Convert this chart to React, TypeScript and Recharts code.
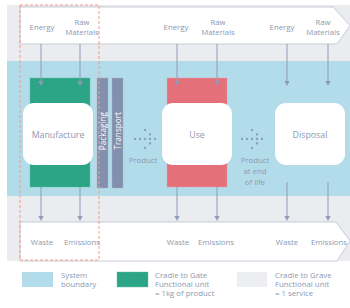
import React from "react";
import {
  ComposedChart,
  XAxis,
  YAxis,
  ReferenceArea,
  ReferenceLine,
  ReferenceDot,
  Scatter,
} from "recharts";

// ---------- data (labels) ----------
const stages = ["Manufacture", "Use", "Disposal"];
const inputs = [["Energy"], ["Raw", "Materials"]];
const outputs = ["Waste", "Emissions"];
const logistics = ["Packaging", "Transport"];
const transfers = [["Product"], ["Product", "at end", "of life"]];
const legendItems = [
  ["System", "boundary"],
  ["Cradle to Gate", "Functional unit", "= 1kg of product"],
  ["Cradle to Grave", "Functional unit", "= 1 service"],
];

// ---------- layout / style ----------
const W = 350;
const H = 308;
const FONT = "'Open Sans', 'Noto Sans', sans-serif";
const C = {
  bg: "#eaecf0",
  blue: "#b3dcea",
  green: "#2ba585",
  greenEdge: "#5fbfa3",
  red: "#e4707a",
  redEdge: "#f09aa0",
  slate: "#8290ad",
  slateEdge: "#a8b3c9",
  text: "#8d99b0",
  arrow: "#8e9bb6",
  boundary: "#f29a88",
  bannerStroke: "#c6cbd7",
  grey: "#eceef1",
};

const stageLayout = [
  { box: [23, 93], bar: [30, 90], barColor: C.green, inX: [41, 80], inLabelX: [42, 82], outLabelX: [42, 82], outStart: 187 },
  { box: [162, 232], bar: [167, 227], barColor: C.red, inX: [177, 217], inLabelX: [176, 218], outLabelX: [178, 216], outStart: 187 },
  { box: [275, 345], bar: null as number[] | null, barColor: "", inX: [287, 328], inLabelX: [282, 323], outLabelX: [287, 329], outStart: 182 },
];
const barEdges: Record<string, string> = { [C.green]: C.greenEdge, [C.red]: C.redEdge };

const logisticsX = [[97, 108], [112, 123]];
const transferAnchors = [[135, 139, 143, 160], [242, 139, 255, 160]];
const legendSwatch = [
  { x: [22, 53], fill: C.blue, stroke: "none", textX: 61 },
  { x: [117, 148], fill: C.green, stroke: C.greenEdge, textX: 155 },
  { x: [237, 267], fill: C.grey, stroke: "none", textX: 275 },
];

// dot-arrow pattern (relative offsets)
const dotPattern = [
  [0, 0], [5, 0], [10, 0], [15, 0], [20, 0],
  [10, -9], [15, -4.5], [15, 4.5], [10, 9],
];
const dotPoints = transferAnchors.flatMap(([x0, y0]) =>
  dotPattern.map(([dx, dy]) => ({ x: x0 + dx, y: y0 + dy }))
);

function label(key: string, x: number, y: number, text: string, size = 8, fill = C.text, anchor = "middle", rotate = false) {
  return (
    <ReferenceDot
      key={key}
      x={x}
      y={y}
      r={0}
      ifOverflow="visible"
      shape={(p: any) => (
        <text
          x={p.cx}
          y={p.cy}
          fill={fill}
          fontSize={size}
          fontFamily={FONT}
          textAnchor={anchor as any}
          dominantBaseline="central"
          transform={rotate ? `rotate(-90 ${p.cx} ${p.cy})` : undefined}
        >
          {text}
        </text>
      )}
    />
  );
}

function arrowHead(key: string, x: number, y: number) {
  return (
    <ReferenceDot
      key={key}
      x={x}
      y={y}
      r={0}
      ifOverflow="visible"
      shape={(p: any) => (
        <polygon
          points={`${p.cx - 2.6},${p.cy - 5} ${p.cx + 2.6},${p.cy - 5} ${p.cx},${p.cy}`}
          fill={C.arrow}
        />
      )}
    />
  );
}

const topBanner = (p: any) => {
  const { x, y, width, height } = p;
  const r = x + width;
  return (
    <path
      d={`M${x},${y} L${r - 17},${y} L${r},${y + height * 0.5} L${r - 13},${y + height} L${x},${y + height} Z`}
      fill="#ffffff"
      stroke={C.bannerStroke}
      strokeWidth={1}
    />
  );
};
const bottomBanner = (p: any) => {
  const { x, y, width, height } = p;
  const r = x + width;
  return (
    <path
      d={`M${x},${y} L${r - 14},${y} L${r},${y + height * 0.48} L${r - 13},${y + height} L${x},${y + height} Z`}
      fill="#ffffff"
      stroke={C.bannerStroke}
      strokeWidth={1}
    />
  );
};
const roundBox = (p: any) => (
  <rect x={p.x} y={p.y} width={p.width} height={p.height} rx={11} ry={11} fill="#ffffff" />
);

export default function App() {
  const areas: React.ReactNode[] = [];
  areas.push(<ReferenceArea key="bg" x1={7} x2={350} y1={5} y2={261} fill={C.bg} fillOpacity={1} stroke="none" ifOverflow="visible" />);
  areas.push(<ReferenceArea key="top" x1={20} x2={350} y1={7} y2={44} shape={topBanner} ifOverflow="visible" />);
  areas.push(<ReferenceArea key="blue" x1={7} x2={350} y1={61} y2={196} fill={C.blue} fillOpacity={1} stroke="none" ifOverflow="visible" />);
  areas.push(<ReferenceArea key="bottom" x1={20} x2={350} y1={222} y2={261} shape={bottomBanner} ifOverflow="visible" />);

  stageLayout.forEach((s, i) => {
    if (s.bar) {
      areas.push(
        <ReferenceArea
          key={`bar${i}`}
          x1={s.bar[0]}
          x2={s.bar[1]}
          y1={78}
          y2={187}
          fill={s.barColor}
          fillOpacity={1}
          stroke={barEdges[s.barColor]}
          strokeDasharray="1.5 1"
          strokeWidth={0.7}
          ifOverflow="visible"
        />
      );
    }
  });
  logisticsX.forEach((lx, i) => {
    areas.push(
      <ReferenceArea
        key={`log${i}`}
        x1={lx[0]}
        x2={lx[1]}
        y1={78}
        y2={188}
        fill={C.slate}
        fillOpacity={1}
        stroke={C.slateEdge}
        strokeDasharray="1.5 1"
        strokeWidth={0.7}
        ifOverflow="visible"
      />
    );
  });
  stageLayout.forEach((s, i) => {
    areas.push(<ReferenceArea key={`box${i}`} x1={s.box[0]} x2={s.box[1]} y1={103} y2={165} shape={roundBox} ifOverflow="visible" />);
  });
  areas.push(
    <ReferenceArea
      key="cradle"
      x1={20}
      x2={99}
      y1={5}
      y2={260}
      fill="none"
      stroke={C.boundary}
      strokeDasharray="3 2"
      strokeWidth={1}
      ifOverflow="visible"
    />
  );
  legendSwatch.forEach((l, i) => {
    areas.push(
      <ReferenceArea
        key={`leg${i}`}
        x1={l.x[0]}
        x2={l.x[1]}
        y1={272}
        y2={287}
        fill={l.fill}
        fillOpacity={1}
        stroke={l.stroke}
        strokeDasharray="1.5 1"
        strokeWidth={0.7}
        ifOverflow="visible"
      />
    );
  });

  const lines: React.ReactNode[] = [];
  const heads: React.ReactNode[] = [];
  stageLayout.forEach((s, i) => {
    s.inX.forEach((x, j) => {
      lines.push(
        <ReferenceLine key={`in${i}${j}`} segment={[{ x, y: 44 }, { x, y: 82 }]} stroke={C.arrow} strokeWidth={1} ifOverflow="visible" />
      );
      heads.push(arrowHead(`inh${i}${j}`, x, 86));
      lines.push(
        <ReferenceLine key={`out${i}${j}`} segment={[{ x, y: s.outStart }, { x, y: 217 }]} stroke={C.arrow} strokeWidth={1} ifOverflow="visible" />
      );
      heads.push(arrowHead(`outh${i}${j}`, x, 221));
    });
  });

  const texts: React.ReactNode[] = [];
  stageLayout.forEach((s, i) => {
    texts.push(label(`stage${i}`, (s.box[0] + s.box[1]) / 2, 135, stages[i], 8.8));
    texts.push(label(`e${i}`, s.inLabelX[0], 27, inputs[0][0], 7.8));
    texts.push(label(`r${i}a`, s.inLabelX[1], 22, inputs[1][0], 7.8));
    texts.push(label(`r${i}b`, s.inLabelX[1], 32, inputs[1][1], 7.8));
    s.outLabelX.forEach((x, j) => texts.push(label(`o${i}${j}`, x, 242, outputs[j], 7.8)));
  });
  logisticsX.forEach((lx, i) => {
    texts.push(label(`lt${i}`, (lx[0] + lx[1]) / 2, 112, logistics[i], 8.2, "#ffffff", "end", true));
  });
  transferAnchors.forEach(([, , tx, ty], i) => {
    transfers[i].forEach((t, k) => texts.push(label(`tr${i}${k}`, tx, ty + k * 10.8, t, 7.8)));
  });
  legendSwatch.forEach((l, i) => {
    legendItems[i].forEach((t, k) => texts.push(label(`lg${i}${k}`, l.textX, 275 + k * 9, t, 7.8, C.text, "start")));
  });

  return (
    <div style={{ position: "absolute", left: 0, top: 0, width: W, height: H, background: "#ffffff" }}>
      <ComposedChart width={W} height={H} margin={{ top: 0, right: 0, bottom: 0, left: 0 }}>
        <XAxis type="number" dataKey="x" domain={[0, W]} hide allowDataOverflow />
        <YAxis type="number" dataKey="y" domain={[0, H]} reversed hide allowDataOverflow />
        {areas}
        {lines}
        {heads}
        <Scatter
          data={dotPoints}
          isAnimationActive={false}
          shape={(p: any) => <circle cx={p.cx} cy={p.cy} r={1.15} fill={C.arrow} />}
        />
        {texts}
      </ComposedChart>
    </div>
  );
}
